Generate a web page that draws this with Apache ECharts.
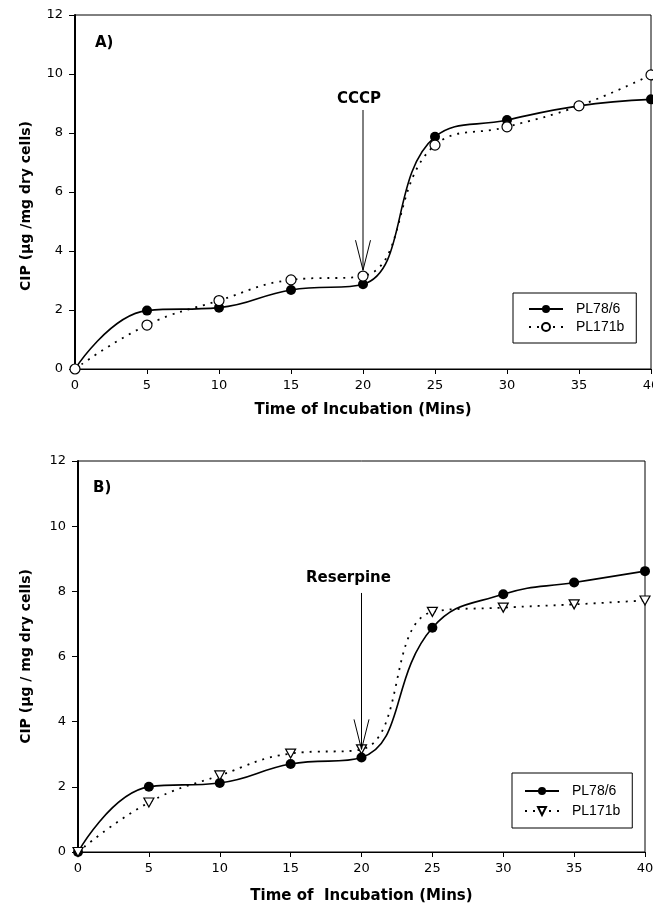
<!DOCTYPE html>
<html>
<head>
<meta charset="utf-8">
<script src="https://cdn.jsdelivr.net/npm/echarts@6/dist/echarts.min.js"></script>
<style>
html,body{margin:0;padding:0;background:#fff;}
#c{width:653px;height:914px;}
</style>
</head>
<body>
<div id="c"></div>
<script>
// ---- data ----
const times = [0, 5, 10, 15, 20, 25, 30, 35, 40];
const xTicks = [0, 5, 10, 15, 20, 25, 30, 35, 40];
const yTicks = [0, 2, 4, 6, 8, 10, 12];
const seriesNames = ['PL78/6', 'PL171b'];
const panelA_PL78 = [0, 1.98, 2.08, 2.68, 2.87, 7.87, 8.44, 8.92, 9.14];
const panelA_PL171 = [0, 1.49, 2.32, 3.02, 3.15, 7.59, 8.21, 8.92, 9.97];
const panelB_PL78 = [0, 2.00, 2.12, 2.70, 2.90, 6.88, 7.91, 8.27, 8.62];
const panelB_PL171 = [0, 1.52, 2.35, 3.02, 3.15, 7.37, 7.50, 7.60, 7.72];
const arrowA = { x: 20, from: 8.78, to: 3.35, label: 'CCCP', dx: -4 };
const arrowB = { x: 20, from: 7.95, to: 3.15, label: 'Reserpine', dx: -13 };

const pairs = (xs, ys) => xs.map((x, i) => [x, ys[i]]);
const FONT = 'DejaVu Sans';
const LFONT = 'Liberation Sans';
const BOLD = { fontFamily: FONT, fontWeight: 'bold', color: '#000' };

function xAxis(gi, gap, title) {
  return {
    type: 'value', gridIndex: gi, min: 0, max: 40, interval: 5,
    axisLine: { lineStyle: { color: '#000', width: 1 } },
    axisTick: { show: true, length: 5, lineStyle: { color: '#000' } },
    axisLabel: { color: '#000', fontFamily: FONT, fontSize: 13, margin: 10 },
    splitLine: { show: false },
    name: title, nameLocation: 'middle', nameGap: gap,
    nameTextStyle: Object.assign({ fontSize: 15 }, BOLD)
  };
}
function yAxis(gi, gap, title, pad) {
  return {
    type: 'value', gridIndex: gi, min: 0, max: 12, interval: 2,
    axisLine: { show: true, lineStyle: { color: '#000', width: 2 } },
    axisTick: { show: true, length: 6, lineStyle: { color: '#000' } },
    axisLabel: { color: '#000', fontFamily: FONT, fontSize: 13, margin: 12 },
    splitLine: { show: false },
    name: title, nameLocation: 'middle', nameGap: gap, nameRotate: 90,
    nameTextStyle: Object.assign({ fontSize: 14, padding: pad }, BOLD)
  };
}
const solid = { color: '#000', width: 1.6, type: 'solid' };
const dotted = { color: '#000', width: 1.8, type: [2, 6] };
const TRI = 'path://M0,0 L10,0 L5,9 Z';

function legend(names, left, top, pad, gap) {
  return {
    data: names, formatter: n => n.trim(),
    left: left, top: top, orient: 'vertical',
    borderColor: '#000', borderWidth: 1, backgroundColor: '#fff',
    padding: pad, itemGap: gap, itemWidth: 34, itemHeight: 10,
    textStyle: { fontFamily: LFONT, fontSize: 14, color: '#000', padding: [0, 0, 0, 8] },
    selectedMode: false
  };
}

const chart = echarts.init(document.getElementById('c'), null, { renderer: 'canvas' });
chart.setOption({
  animation: false,
  backgroundColor: '#fff',
  grid: [
    { left: 75, top: 15, width: 576, height: 354, show: true, borderColor: '#000', borderWidth: 1, outerBoundsMode: 'none', containLabel: false },
    { left: 78, top: 461, width: 567, height: 391, show: true, borderColor: '#000', borderWidth: 1, outerBoundsMode: 'none', containLabel: false }
  ],
  xAxis: [xAxis(0, 34, 'Time of Incubation (Mins)'), xAxis(1, 37, 'Time of  Incubation (Mins)')],
  yAxis: [yAxis(0, 42, 'CIP (µg /mg dry cells)', [0, 28, 0, 0]), yAxis(1, 45, 'CIP (µg / mg dry cells)', 0)],
  legend: [
    legend([seriesNames[0], seriesNames[1]], 513, 293, [9, 12, 9, 15], 4),
    legend([seriesNames[0] + ' ', seriesNames[1] + ' '], 512, 773, [11, 12, 10, 12], 6)
  ],
  series: [
    { name: seriesNames[0], type: 'line', xAxisIndex: 0, yAxisIndex: 0, smooth: 0.45,
      data: pairs(times, panelA_PL78), symbol: 'circle', symbolSize: 10,
      itemStyle: { color: '#000' }, lineStyle: solid, z: 3 },
    { name: seriesNames[1], type: 'line', xAxisIndex: 0, yAxisIndex: 0, smooth: 0.45,
      data: pairs(times, panelA_PL171), symbol: 'circle', symbolSize: 10,
      itemStyle: { color: '#fff', borderColor: '#000', borderWidth: 1.2 }, lineStyle: dotted, z: 4 },
    { name: seriesNames[0] + ' ', type: 'line', xAxisIndex: 1, yAxisIndex: 1, smooth: 0.45,
      data: pairs(times, panelB_PL78), symbol: 'circle', symbolSize: 10,
      itemStyle: { color: '#000' }, lineStyle: solid, z: 3 },
    { name: seriesNames[1] + ' ', type: 'line', xAxisIndex: 1, yAxisIndex: 1, smooth: 0.45,
      data: pairs(times, panelB_PL171), symbol: TRI, symbolSize: [10, 9],
      itemStyle: { color: '#fff', borderColor: '#000', borderWidth: 1.2 }, lineStyle: dotted, z: 4 }
  ]
});

function arrowGraphics(gi, a, labelGap) {
  const p1 = chart.convertToPixel({ gridIndex: gi }, [a.x, a.from]);
  const p2 = chart.convertToPixel({ gridIndex: gi }, [a.x, a.to]);
  const hw = 7.5, hh = 30;
  return [
    { type: 'line', shape: { x1: p1[0], y1: p1[1], x2: p2[0], y2: p2[1] },
      style: { stroke: '#000', lineWidth: 1 }, z: 10 },
    { type: 'polyline', shape: { points: [[p2[0] - hw, p2[1] - hh], [p2[0], p2[1]], [p2[0] + hw, p2[1] - hh]] },
      style: { stroke: '#000', lineWidth: 1, fill: null }, z: 10 },
    { type: 'text', x: p1[0] + a.dx, y: p1[1] - labelGap,
      style: { text: a.label, font: 'bold 15px "DejaVu Sans"', fill: '#000', align: 'center', verticalAlign: 'middle' }, z: 10 }
  ];
}
const gA = chart.convertToPixel({ gridIndex: 0 }, [0, 12]);
const gB = chart.convertToPixel({ gridIndex: 1 }, [0, 12]);
chart.setOption({
  graphic: [].concat(
    arrowGraphics(0, arrowA, 11),
    arrowGraphics(1, arrowB, 15),
    [
      { type: 'text', x: gA[0] + 20, y: gA[1] + 28, style: { text: 'A)', font: 'bold 15px "DejaVu Sans"', fill: '#000', verticalAlign: 'middle' }, z: 10 },
      { type: 'text', x: gB[0] + 15, y: gB[1] + 27, style: { text: 'B)', font: 'bold 15px "DejaVu Sans"', fill: '#000', verticalAlign: 'middle' }, z: 10 }
    ]
  )
});
</script>
</body>
</html>
